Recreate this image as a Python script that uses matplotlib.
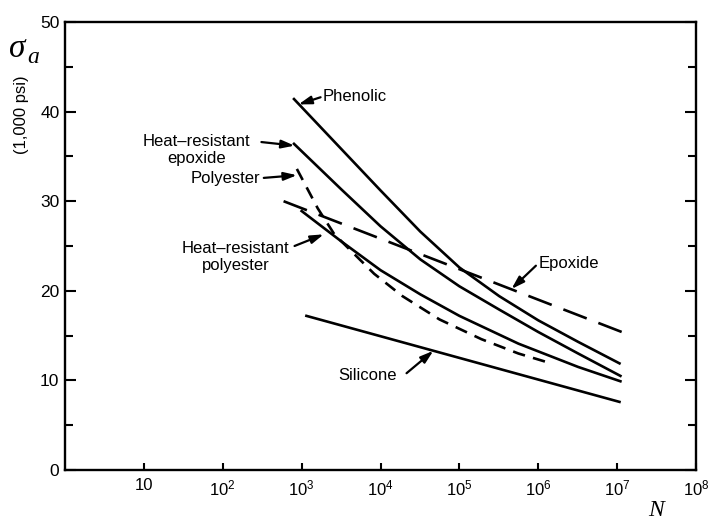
import matplotlib
matplotlib.use('Agg')
import matplotlib.pyplot as plt

plt.rcParams['font.family'] = ['Liberation Sans', 'DejaVu Sans']
plt.rcParams['mathtext.fontset'] = 'custom'
plt.rcParams['mathtext.rm'] = 'Liberation Sans'
plt.rcParams['mathtext.default'] = 'regular'
plt.rcParams['lines.scale_dashes'] = False

# S-N curves: N (cycles) and sigma_a (1,000 psi)
phenolic_N = [8e2, 3.2e3, 1e4, 3.2e4, 1e5, 3.2e5, 1e6, 3.2e6, 1.07e7]
phenolic_s = [41.4, 35.8, 31.2, 26.6, 22.6, 19.4, 16.7, 14.3, 11.9]

hr_epoxide_N = [8e2, 3.2e3, 1e4, 3.2e4, 1e5, 3.2e5, 1e6, 3.2e6, 1.1e7]
hr_epoxide_s = [36.4, 31.3, 27.2, 23.5, 20.5, 17.9, 15.4, 13.0, 10.5]

polyester_N = [8.7e2, 1.6e3, 2.6e3, 8.3e3, 1.9e4, 5.6e4, 1.9e5, 5.6e5, 1.45e6]
polyester_s = [33.6, 29.2, 26.3, 21.9, 19.4, 16.8, 14.6, 13.0, 11.9]

hr_polyester_N = [1e3, 3.2e3, 1e4, 3.2e4, 1e5, 5.6e5, 3.2e6, 1.1e7]
hr_polyester_s = [28.9, 25.5, 22.3, 19.6, 17.2, 14.1, 11.5, 9.9]

epoxide_N = [5.9e2, 1.5e7]
epoxide_s = [30.0, 15.0]

silicone_N = [1.15e3, 1.07e7]
silicone_s = [17.2, 7.6]

xtick_vals = [1e1, 1e2, 1e3, 1e4, 1e5, 1e6, 1e7, 1e8]
xtick_labels = ['10', '$10^2$', '$10^3$', '$10^4$', '$10^5$', '$10^6$', '$10^7$', '$10^8$']

fig = plt.figure(figsize=(7.09, 5.2), dpi=100)
ax = fig.add_axes([0.0917, 0.0962, 0.890, 0.8615])

lw = 1.9
ax.plot(phenolic_N, phenolic_s, color='black', lw=lw)
ax.plot(hr_epoxide_N, hr_epoxide_s, color='black', lw=lw)
ax.plot(hr_polyester_N, hr_polyester_s, color='black', lw=lw)
ax.plot(silicone_N, silicone_s, color='black', lw=lw)
ax.plot(polyester_N, polyester_s, color='black', lw=lw, dashes=(9, 6))
ax.plot(epoxide_N, epoxide_s, color='black', lw=lw, dashes=(18, 9))

ax.set_xscale('log')
ax.set_xlim(1, 1e8)
ax.set_ylim(0, 50)

ax.set_xticks(xtick_vals)
ax.set_xticklabels(xtick_labels, fontsize=12)
ax.xaxis.set_minor_locator(matplotlib.ticker.NullLocator())
ax.tick_params(axis='x', direction='in', length=5, width=1.5, pad=6, top=False)

ax.set_yticks([0, 10, 20, 30, 40, 50])
ax.set_yticks([5, 15, 25, 35, 45], minor=True)
ax.tick_params(axis='y', which='major', direction='in', length=8, width=1.5,
               labelsize=12.5, pad=4, right=True)
ax.tick_params(axis='y', which='minor', direction='in', length=6, width=1.5, right=True)

for sp in ax.spines.values():
    sp.set_linewidth(1.7)

# labels with arrows
arrow = dict(arrowstyle='-|>,head_length=0.7,head_width=0.22', lw=1.6,
             color='black', shrinkA=0, shrinkB=0, mutation_scale=11)

def label(txt, pos, tail, head, ha='left'):
    ax.text(pos[0], pos[1], txt, fontsize=12, ha=ha, va='center',
            multialignment='center')
    ax.annotate('', xy=head, xytext=tail, arrowprops=arrow)

label('Phenolic', (10**3.27, 41.7), (10**3.24, 41.6), (10**2.96, 40.8))
label('Heat\u2013resistant\nepoxide', (10**1.67, 35.7), (10**2.49, 36.6), (10**2.91, 36.2), ha='center')
label('Polyester', (10**2.47, 32.5), (10**2.52, 32.6), (10**2.94, 32.9), ha='right')
label('Heat\u2013resistant\npolyester', (10**2.16, 23.8), (10**2.91, 25.0), (10**3.28, 26.3), ha='center')
label('Epoxide', (10**6.0, 23.0), (10**5.97, 22.8), (10**5.66, 20.2))
label('Silicone', (10**3.47, 10.5), (10**4.33, 10.8), (10**4.67, 13.3))

fig.text(9 / 709, 1 - 57 / 520, '\u03c3', fontsize=24, family='Liberation Serif',
         style='italic', ha='left', va='baseline')
fig.text(27 / 709, 1 - 63 / 520, 'a', fontsize=17, family='Liberation Serif',
         style='italic', ha='left', va='baseline')
fig.text(22 / 709, 1 - 115 / 520, '(1,000 psi)', fontsize=12, rotation=90,
         va='center', ha='center')
fig.text(656 / 709, 1 - 510 / 520, 'N', fontsize=17, family='Liberation Serif',
         style='italic', ha='center', va='center')

fig.savefig('out.png', dpi=100)
